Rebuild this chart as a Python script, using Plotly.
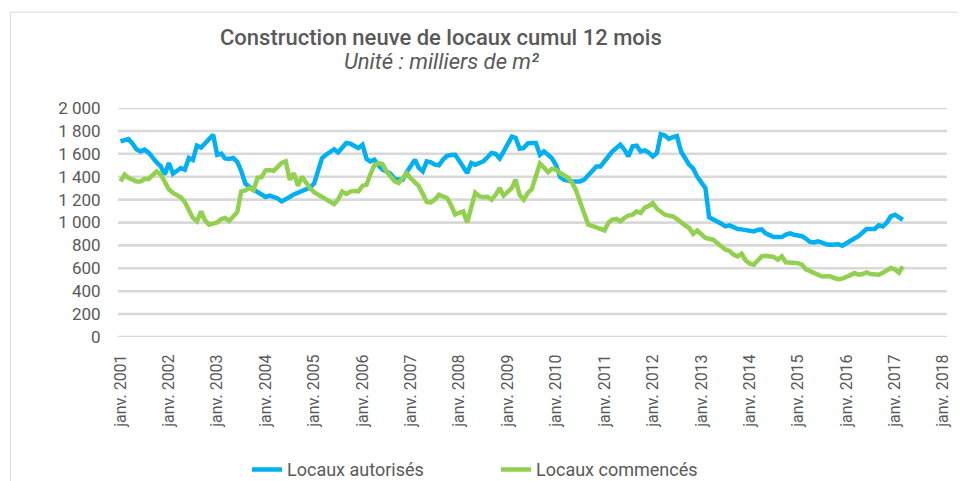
import pandas as pd
import plotly.graph_objects as go

# Monthly values (milliers de m²), janv. 2001 -> mars 2017
locaux_autorises = [
    1708, 1715, 1729, 1690, 1640, 1621, 1636, 1610, 1560, 1525, 1490, 1420,
    1520, 1426, 1450, 1476, 1461, 1563, 1545, 1671, 1655, 1690, 1723, 1767,
    1590, 1601, 1560, 1555, 1563, 1530, 1450, 1340, 1310, 1290, 1260, 1240,
    1223, 1234, 1226, 1210, 1184, 1200, 1223, 1245, 1258, 1275, 1293, 1305,
    1340, 1470, 1560, 1592, 1621, 1640, 1612, 1650, 1694, 1688, 1665, 1651,
    1679, 1555, 1534, 1548, 1500, 1461, 1445, 1426, 1380, 1374, 1374, 1440,
    1500, 1548, 1480, 1446, 1534, 1525, 1505, 1500, 1550, 1583, 1590, 1592,
    1540, 1490, 1432, 1520, 1505, 1520, 1534, 1570, 1607, 1600, 1560, 1620,
    1680, 1750, 1740, 1645, 1651, 1690, 1694, 1694, 1592, 1621, 1592, 1560,
    1500, 1397, 1374, 1365, 1359, 1359, 1359, 1374, 1410, 1450, 1490, 1490,
    1540, 1580, 1620, 1651, 1679, 1636, 1577, 1665, 1671, 1620, 1630, 1610,
    1577, 1607, 1770, 1760, 1730, 1745, 1755, 1620, 1560, 1505, 1470, 1400,
    1350, 1300, 1045, 1030, 1015, 990, 966, 975, 960, 943, 940, 937,
    930, 922, 935, 940, 905, 885, 873, 873, 873, 895, 905, 893,
    890, 880, 860, 830, 825, 835, 825, 810, 806, 812, 810, 797,
    820, 850, 860, 880, 910, 943, 943, 943, 975, 965, 1000, 1053,
    1068, 1050, 1024,
]

locaux_commences = [
    1359, 1417, 1390, 1374, 1359, 1359, 1380, 1380, 1410, 1446, 1420, 1350,
    1290, 1258, 1235, 1220, 1180, 1110, 1040, 1010, 1097, 1018, 981, 990,
    1000, 1030, 1039, 1015, 1050, 1090, 1272, 1280, 1300, 1280, 1390, 1395,
    1455, 1458, 1450, 1480, 1520, 1534, 1374, 1430, 1321, 1400, 1340, 1300,
    1265, 1243, 1220, 1199, 1175, 1160, 1200, 1270, 1250, 1270, 1276, 1272,
    1320, 1330, 1420, 1500, 1520, 1510, 1446, 1395, 1360, 1345, 1390, 1430,
    1385, 1355, 1320, 1250, 1180, 1175, 1200, 1243, 1230, 1214, 1150, 1070,
    1085, 1097, 1000, 1150, 1260, 1230, 1220, 1225, 1199, 1240, 1300, 1235,
    1270, 1301, 1374, 1240, 1199, 1258, 1290, 1420, 1515, 1480, 1440, 1470,
    1460, 1432, 1410, 1390, 1350, 1280, 1180, 1080, 981, 970, 960, 945,
    931, 1000, 1025, 1031, 1010, 1040, 1060, 1068, 1097, 1083, 1130, 1145,
    1170, 1120, 1090, 1068, 1060, 1053, 1030, 996, 975, 952, 900, 930,
    895, 865, 858, 850, 820, 790, 765, 752, 720, 704, 727, 670,
    640, 631, 660, 704, 710, 705, 699, 675, 704, 652, 652, 648,
    645, 631, 590, 575, 560, 545, 528, 530, 530, 515, 505, 510,
    520, 540, 559, 545, 550, 564, 550, 544, 544, 560, 582, 603,
    590, 562, 617,
]

months = pd.date_range("2001-01-01", periods=len(locaux_autorises), freq="MS")

tick_years = list(range(2001, 2019))
tick_dates = [f"{y}-01-01" for y in tick_years]
tick_labels = [f"janv. {y}" for y in tick_years]

y_ticks = list(range(0, 2001, 200))
x_range = ["2000-12-13", "2018-01-29"]

series_names = ["Locaux autorisés", "Locaux commencés"]
series_colors = ["#00B0F0", "#92D050"]

TXT = "#595959"
FONT = "Roboto"
GRID = "#d9d9d9"

fig = go.Figure()
for name, vals, col in zip(series_names, [locaux_autorises, locaux_commences], series_colors):
    fig.add_trace(go.Scatter(
        x=months, y=vals, name=name, mode="lines",
        line=dict(color=col, width=4.5),
        hoverinfo="skip",
    ))

# page body has an 8px default margin: work in window pixels, convert to figure pixels
OFF = 8
W, H = 965 - OFF, 481 - OFF
PL, PR, PT, PB = 118, 947, 108.3, 337.3   # plot area in window pixels
L = PL - OFF
T = PT - OFF
R = W - (PR - OFF)
B = H - (PB - OFF)
pw, ph = W - L - R, H - T - B

def px_x(p):
    return (p - OFF - L) / pw

def px_y(p):
    return (H - B - (p - OFF)) / ph

# horizontal gridlines at the y tick values, on the y scale, beneath the data
grid_shapes = [
    dict(type="line", xref="paper", yref="y", x0=0, x1=1, y0=v, y1=v,
         line=dict(color=GRID, width=2.5), layer="below")
    for v in y_ticks
]

frame = dict(
    type="rect", xref="paper", yref="paper",
    x0=px_x(10.5), x1=px_x(975), y0=px_y(495), y1=px_y(12.5),
    line=dict(color=GRID, width=1), fillcolor="rgba(0,0,0,0)",
    layer="above",
)

fig.update_layout(
    width=W, height=H,
    margin=dict(l=L, r=R, t=T, b=B, autoexpand=False),
    paper_bgcolor="white", plot_bgcolor="white",
    separators=", ",
    font=dict(family=FONT, color=TXT, size=15),
    showlegend=True,
    legend=dict(
        orientation="h",
        x=px_x(247), xanchor="left",
        y=px_y(470), yanchor="middle",
        font=dict(family=FONT, size=18, color=TXT),
        entrywidth=204, entrywidthmode="pixels",
        bgcolor="rgba(0,0,0,0)",
        itemwidth=30,
    ),
    xaxis=dict(
        type="date",
        range=x_range,
        tickvals=tick_dates, ticktext=tick_labels,
        tickangle=-90,
        tickfont=dict(family=FONT, size=16, color=TXT),
        showgrid=False, zeroline=False, showline=False,
        ticks="outside", ticklen=10, tickcolor="rgba(0,0,0,0)",
        automargin=False,
    ),
    yaxis=dict(
        range=[0, 2000], tickvals=y_ticks, tickformat=",d",
        tickfont=dict(family=FONT, size=17, color=TXT),
        showgrid=True, gridcolor=GRID, gridwidth=2,
        zeroline=False, showline=False,
        ticks="outside", ticklen=13, tickcolor="rgba(0,0,0,0)",
        automargin=False,
    ),
    shapes=grid_shapes + [frame],
    annotations=[
        dict(text="Construction neuve de locaux cumul 12 mois",
             xref="paper", yref="paper", x=px_x(441), y=px_y(38),
             xanchor="center", yanchor="middle", showarrow=False,
             font=dict(family=FONT, size=22, color=TXT, weight=500)),
        dict(text="<i>Unité : milliers de m²</i>",
             xref="paper", yref="paper", x=px_x(441), y=px_y(62),
             xanchor="center", yanchor="middle", showarrow=False,
             font=dict(family=FONT, size=22, color=TXT)),
    ],
)

fig.write_html("out.html")
